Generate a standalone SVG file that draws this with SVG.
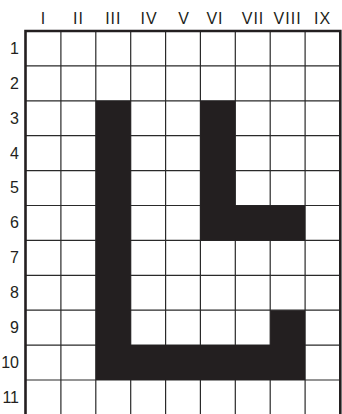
<svg xmlns="http://www.w3.org/2000/svg" width="342" height="414" viewBox="0 0 342 414">
<style>
.g{stroke:#2a2a2a;stroke-width:1.2;fill:none}
.b{stroke:#231f20;stroke-width:2.6;fill:none}
.f{fill:#231f20}
.t{font-family:"Liberation Sans","DejaVu Sans",sans-serif;font-size:16px;fill:#231f20}
.c{text-anchor:middle;letter-spacing:1px}
.r{text-anchor:end}
</style>
<rect width="342" height="414" fill="#fff"/>
<g id="grid">
<path class="g" d="M60.9 31V414M95.8 31V414M130.7 31V414M165.6 31V414M200.4 31V414M235.3 31V414M270.2 31V414M305.1 31V414"/>
<path class="g" d="M26 65.9H340M26 100.8H340M26 135.7H340M26 170.6H340M26 205.5H340M26 240.4H340M26 275.3H340M26 310.2H340M26 345.1H340M26 380H340"/>
</g>
<g id="shapes">
<path class="f" d="M95.8 100.8H130.7V345.1H270.2V310.2H305.1V380H95.8Z"/>
<path class="f" d="M200.4 100.8H235.3V205.5H305.1V240.4H200.4Z"/>
</g>
<g id="border">
<path class="b" d="M25.5 414V31H340.3V414"/>
</g>
<g id="col-labels" class="t c">
<text x="43.5" y="24">I</text>
<text x="78.4" y="24">II</text>
<text x="113.3" y="24">III</text>
<text x="149" y="24">IV</text>
<text x="184" y="24">V</text>
<text x="215" y="24">VI</text>
<text x="253" y="24">VII</text>
<text x="287.6" y="24">VIII</text>
<text x="322.5" y="24">IX</text>
</g>
<g id="row-labels" class="t r">
<text x="19" y="54">1</text>
<text x="19" y="89">2</text>
<text x="19" y="124">3</text>
<text x="19" y="159">4</text>
<text x="19" y="193">5</text>
<text x="19" y="228">6</text>
<text x="19" y="263">7</text>
<text x="19" y="298">8</text>
<text x="19" y="333">9</text>
<text x="19" y="368">10</text>
<text x="19" y="403">11</text>
</g>
</svg>
